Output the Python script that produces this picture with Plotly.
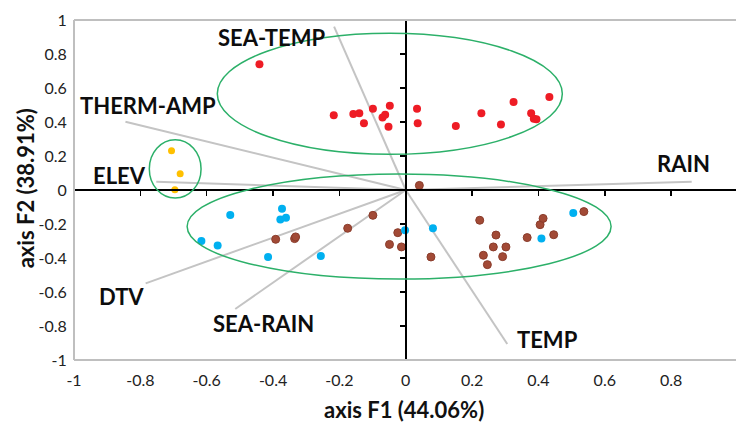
import plotly.graph_objects as go

# ---------------- data ----------------
red_x = [-0.441, -0.217, -0.158, -0.140, -0.099, -0.126, -0.070, -0.062, -0.048, -0.052,
         0.034, 0.036, 0.151, 0.228, 0.287, 0.325, 0.378, 0.386, 0.394, 0.433]
red_y = [0.739, 0.439, 0.447, 0.451, 0.478, 0.392, 0.427, 0.443, 0.496, 0.372,
         0.478, 0.392, 0.376, 0.451, 0.386, 0.518, 0.451, 0.419, 0.416, 0.547]

yellow_x = [-0.706, -0.680, -0.696]
yellow_y = [0.231, 0.096, 0.002]

blue_x = [-0.529, -0.373, -0.378, -0.361, -0.616, -0.567, -0.415, -0.256, -0.002, 0.082, 0.505, 0.409]
blue_y = [-0.147, -0.110, -0.173, -0.163, -0.300, -0.327, -0.394, -0.388, -0.237, -0.225, -0.135, -0.286]

brown_x = [-0.392, -0.335, -0.332, -0.175, -0.099, -0.024, -0.049, -0.013, 0.041, 0.076,
           0.223, 0.272, 0.264, 0.302, 0.234, 0.292, 0.246, 0.366, 0.405, 0.414, 0.446, 0.537]
brown_y = [-0.290, -0.286, -0.276, -0.225, -0.149, -0.251, -0.320, -0.335, 0.027, -0.394,
           -0.178, -0.265, -0.335, -0.335, -0.384, -0.392, -0.439, -0.280, -0.204, -0.167, -0.263, -0.127]

variables = ["SEA-TEMP", "THERM-AMP", "ELEV", "RAIN", "DTV", "SEA-RAIN", "TEMP"]
load_x = [-0.216, -0.845, -0.752, 0.862, -0.784, -0.514, 0.306]
load_y = [0.961, 0.402, 0.049, 0.049, -0.549, -0.700, -0.906]

# group ellipses: centre x, centre y, radius x, radius y
ell_cx = [-0.048, -0.695, -0.020]
ell_cy = [0.566, 0.124, -0.215]
ell_rx = [0.520, 0.078, 0.639]
ell_ry = [0.356, 0.171, 0.309]

tick_vals = [-1, -0.8, -0.6, -0.4, -0.2, 0, 0.2, 0.4, 0.6, 0.8, 1]
tick_text = ["-1", "-0.8", "-0.6", "-0.4", "-0.2", "0", "0.2", "0.4", "0.6", "0.8", "1"]

# ---------------- layout helpers ----------------
label_pos_x = [-0.406, -0.777, -0.863, 0.838, -0.856, -0.430, 0.428]
label_pos_y = [0.900, 0.500, 0.088, 0.157, -0.628, -0.788, -0.882]

FONT = "Lato, 'Open Sans', sans-serif"
XMAX = 0.9955

fig = go.Figure()

# variable vectors
vx, vy = [], []
for a, b in zip(load_x, load_y):
    vx += [0, a, None]
    vy += [0, b, None]
fig.add_trace(go.Scatter(x=vx, y=vy, mode="lines",
                         line=dict(color="#c4c4c4", width=2), hoverinfo="skip", showlegend=False))

# ellipses
shapes = []
for cx, cy, rx, ry in zip(ell_cx, ell_cy, ell_rx, ell_ry):
    shapes.append(dict(type="circle", xref="x", yref="y",
                       x0=cx - rx, x1=cx + rx, y0=cy - ry, y1=cy + ry,
                       line=dict(color="#2cb069", width=1.5), layer="above"))

# frame (top, left, bottom)
shapes.append(dict(type="line", xref="paper", yref="paper", x0=0, x1=1, y0=1, y1=1,
                   line=dict(color="#bfbfbf", width=2)))
shapes.append(dict(type="line", xref="paper", yref="paper", x0=0, x1=0, y0=0, y1=1,
                   line=dict(color="#bfbfbf", width=2)))
shapes.append(dict(type="line", xref="paper", yref="paper", x0=0, x1=1, y0=0, y1=0,
                   line=dict(color="#bfbfbf", width=2)))

# points
fig.add_trace(go.Scatter(x=red_x, y=red_y, mode="markers",
                         marker=dict(color="#ee1c25", size=8, line=dict(width=0)), showlegend=False))
fig.add_trace(go.Scatter(x=yellow_x, y=yellow_y, mode="markers",
                         marker=dict(color="#ffc000", size=7, line=dict(width=0)), showlegend=False))
fig.add_trace(go.Scatter(x=brown_x, y=brown_y, mode="markers",
                         marker=dict(color="#a24a36", size=8, line=dict(color="#8a3c2b", width=1)),
                         showlegend=False))
fig.add_trace(go.Scatter(x=blue_x, y=blue_y, mode="markers",
                         marker=dict(color="#00b0f0", size=8, line=dict(width=0)), showlegend=False))

# dummy trace on the centred axes so they render
fig.add_trace(go.Scatter(x=[0], y=[0], xaxis="x2", yaxis="y2", mode="markers",
                         marker=dict(size=1, opacity=0), hoverinfo="skip", showlegend=False))

annotations = []
for name, lx, ly in zip(variables, label_pos_x, label_pos_y):
    annotations.append(dict(x=lx, y=ly, xref="x", yref="y", text="<b>%s</b>" % name,
                            showarrow=False, font=dict(family=FONT, size=22, color="#0d0d0d")))
# last x tick label, cut by the right edge of the picture
annotations.append(dict(x=tick_vals[-1], y=-0.05, xref="x", yref="paper", text=tick_text[-1],
                        showarrow=False, yanchor="middle",
                        font=dict(family=FONT, size=16, color="#222")))
# axis titles
annotations.append(dict(x=-0.005, y=-0.147, xref="x", yref="paper", text="<b>axis F1 (44.06%)</b>",
                        showarrow=False, yanchor="middle",
                        font=dict(family=FONT, size=22, color="#111")))
annotations.append(dict(x=-0.074, y=0.505, xref="paper", yref="paper", text="<b>axis F2 (38.91%)</b>",
                        showarrow=False, textangle=-90, xanchor="center", yanchor="middle",
                        font=dict(family=FONT, size=22, color="#111")))

fig.update_layout(
    width=736, height=424,
    margin=dict(l=74, r=0, t=20, b=64),
    paper_bgcolor="white", plot_bgcolor="white",
    shapes=shapes, annotations=annotations,
    xaxis=dict(range=[-1, XMAX], tickvals=tick_vals, ticktext=tick_text, showgrid=False,
               zeroline=False, showline=False, ticks="outside", ticklen=6, tickcolor="rgba(0,0,0,0)",
               automargin=False,
               tickfont=dict(family=FONT, size=16, color="#222")),
    yaxis=dict(range=[-1, 1], tickvals=tick_vals, ticktext=tick_text, showgrid=False,
               zeroline=False, showline=False, ticks="outside", ticklen=3, tickcolor="rgba(0,0,0,0)",
               automargin=False,
               tickfont=dict(family=FONT, size=16, color="#222")),
    xaxis2=dict(range=[-1, XMAX], overlaying="x", anchor="free", position=0.5, side="bottom",
                tickvals=tick_vals, showticklabels=False, ticks="outside", ticklen=5, tickwidth=1.5,
                tickcolor="black", showline=True, linecolor="black", linewidth=2,
                showgrid=False, zeroline=False, automargin=False),
    yaxis2=dict(range=[-1, 1], overlaying="y", anchor="free", position=1 / (1 + XMAX), side="left",
                tickvals=tick_vals, showticklabels=False, ticks="outside", ticklen=5, tickwidth=1.5,
                tickcolor="black", showline=True, linecolor="black", linewidth=2,
                showgrid=False, zeroline=False, automargin=False),
)

fig.write_html("out.html", config={"displayModeBar": False, "staticPlot": True},
               post_script="document.body.style.margin='0px';document.body.style.overflow='hidden';")
